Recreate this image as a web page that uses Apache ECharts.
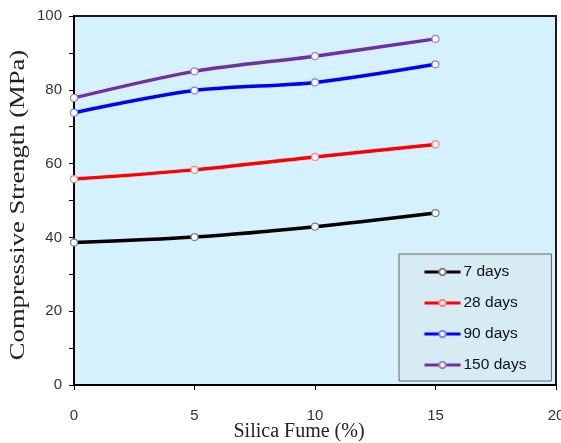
<!DOCTYPE html>
<html>
<head>
<meta charset="utf-8">
<script src="https://cdn.jsdelivr.net/npm/echarts@6/dist/echarts.min.js"></script>
<style>html,body{margin:0;padding:0;background:#fff}#c{width:561px;height:443px}</style>
</head>
<body>
<div id="c"></div>
<script>
const silicaFume = [0, 5, 10, 15];
const days7 = [38.6, 40.1, 42.9, 46.6];
const days28 = [55.8, 58.3, 61.8, 65.2];
const days90 = [73.8, 79.8, 82.0, 86.9];
const days150 = [77.8, 85.0, 89.1, 93.8];
const seriesNames = ['7 days', '28 days', '90 days', '150 days'];
const xTicks = [0, 5, 10, 15, 20];
const yTicks = [0, 20, 40, 60, 80, 100];
const xTitle = 'Silica Fume (%)';
const yTitle = 'Compressive Strength (MPa)';

const lineColors = ['#000000', '#ff0000', '#0000ff', '#7030a0'];
const markColors = ['#808080', '#ff8080', '#8080ff', '#a080c8'];
const allData = [days7, days28, days90, days150];

const chart = echarts.init(document.getElementById('c'), null, {renderer: 'canvas'});
chart.setOption({
  backgroundColor: '#ffffff',
  animation: false,
  grid: {
    left: 74, right: 5, top: 16, bottom: 58,
    containLabel: false, outerBoundsMode: 'none',
    show: true, backgroundColor: '#d5f1fd', borderColor: '#1a1a1a', borderWidth: 2
  },
  graphic: [{
    type: 'text',
    x: 19, y: 205,
    rotation: Math.PI / 2,
    scaleX: 1.33,
    style: {
      text: yTitle,
      fontFamily: 'Liberation Serif', fontSize: 20, fill: '#222',
      align: 'center', verticalAlign: 'middle'
    }
  }],
  legend: {
    orient: 'vertical',
    left: 399, top: 254,
    padding: [10, 25, 8, 24],
    backgroundColor: '#d7ebf3',
    borderColor: '#666666',
    borderWidth: 1,
    itemWidth: 36, itemHeight: 8, itemGap: 15,
    lineStyle: {width: 3},
    textStyle: {fontFamily: 'Liberation Sans', fontSize: 15.5, color: '#111', padding: [0,0,0,-2]},
    data: seriesNames
  },
  xAxis: {
    type: 'value', min: xTicks[0], max: xTicks[xTicks.length - 1], interval: 5,
    name: xTitle, nameLocation: 'middle', nameGap: 37, nameMoveOverlap: false,
    nameTextStyle: {fontFamily: 'Liberation Serif', fontSize: 20, color: '#222', padding: [0, 32, 0, 0]},
    axisLine: {lineStyle: {color: '#000', width: 2}},
    axisTick: {show: true, length: 5, lineStyle: {color: '#000'}},
    axisLabel: {margin: 23, fontFamily: 'Liberation Sans', fontSize: 15, color: '#333'},
    splitLine: {show: false}
  },
  yAxis: {
    type: 'value', min: yTicks[0], max: yTicks[yTicks.length - 1], interval: 20,
    axisLine: {show: true, lineStyle: {color: '#000', width: 2}},
    axisTick: {show: true, length: 5, lineStyle: {color: '#000'}},
    minorTick: {show: true, splitNumber: 2, length: 5, lineStyle: {color: '#000'}},
    axisLabel: {margin: 12, fontFamily: 'Liberation Sans', fontSize: 15, color: '#333'},
    splitLine: {show: false}
  },
  series: seriesNames.map((n, i) => ({
    name: n,
    type: 'line',
    smooth: 0.3,
    symbol: 'circle',
    symbolSize: 7,
    data: silicaFume.map((x, j) => [x, allData[i][j]]),
    lineStyle: {color: lineColors[i], width: 3.5},
    itemStyle: {color: '#ffffff', borderColor: markColors[i], borderWidth: 1.2}
  }))
});
</script>
</body>
</html>
